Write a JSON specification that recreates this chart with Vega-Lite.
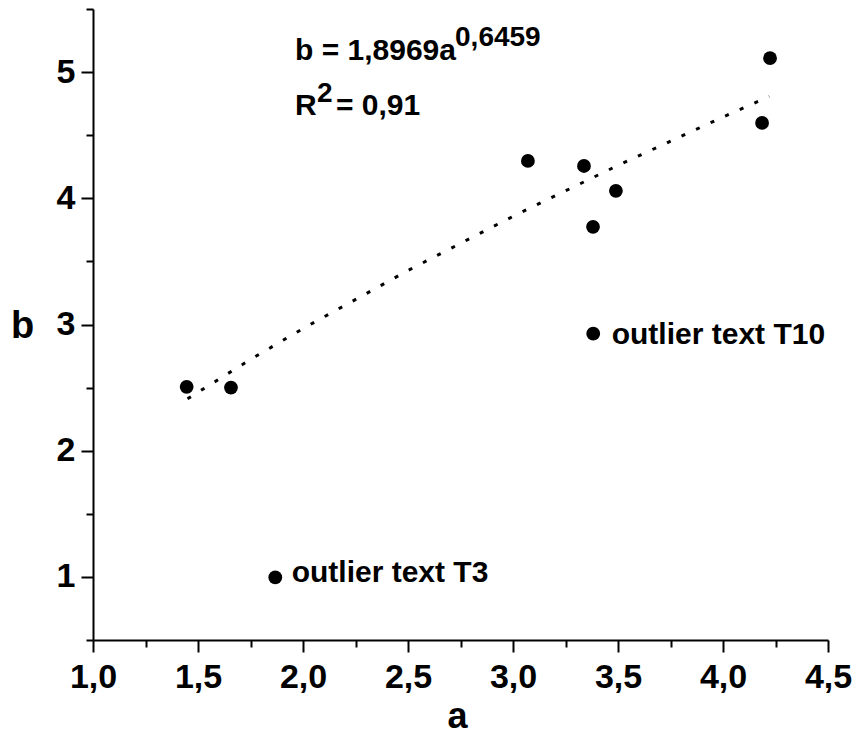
{
  "$schema": "https://vega.github.io/schema/vega-lite/v6.json",
  "autosize": "none",
  "width": 735,
  "height": 631,
  "padding": {"left": 93, "top": 9, "right": 28, "bottom": 96},
  "config": {
    "view": {"stroke": null},
    "font": "Liberation Sans",
    "axis": {
      "grid": false,
      "domainColor": "black",
      "domainWidth": 2,
      "tickColor": "black",
      "tickWidth": 2,
      "labelColor": "black",
      "labelFont": "Liberation Sans",
      "labelFontWeight": "bold",
      "labelFontSize": 34,
      "titleFont": "Liberation Sans",
      "titleFontWeight": "bold",
      "titleFontSize": 38,
      "titleColor": "black",
      "labelFlush": false,
      "labelOverlap": false
    }
  },
  "datasets": {
    "points": [
      {"a": 1.446, "b": 2.506},
      {"a": 1.657, "b": 2.50},
      {"a": 1.868, "b": 0.996},
      {"a": 3.071, "b": 4.296},
      {"a": 3.338, "b": 4.256},
      {"a": 3.381, "b": 3.774},
      {"a": 3.382, "b": 2.927},
      {"a": 3.49, "b": 4.059},
      {"a": 4.186, "b": 4.597},
      {"a": 4.224, "b": 5.11}
    ],
    "curve": [
      {"a": 1.45, "b": 2.411},
      {"a": 1.75, "b": 2.723},
      {"a": 2.0, "b": 2.968},
      {"a": 2.5, "b": 3.428},
      {"a": 3.0, "b": 3.857},
      {"a": 3.5, "b": 4.261},
      {"a": 4.0, "b": 4.644},
      {"a": 4.22, "b": 4.807}
    ],
    "labels": [
      {"a": 3.47, "b": 2.846, "text": "outlier text T10"},
      {"a": 1.946, "b": 0.963, "text": "outlier text T3"},
      {"a": 1.962, "b": 5.095, "text": "b = 1,8969a"},
      {"a": 1.962, "b": 4.66, "text": "R"},
      {"a": 2.157, "b": 4.66, "text": "= 0,91"}
    ],
    "sups": [
      {"a": 2.724, "b": 5.206, "text": "0,6459"},
      {"a": 2.067, "b": 4.765, "text": "2"}
    ]
  },
  "layer": [
    {
      "data": {"name": "curve"},
      "mark": {"type": "line", "color": "black", "strokeWidth": 3, "strokeDash": [4, 12], "strokeCap": "butt"},
      "encoding": {
        "x": {
          "field": "a", "type": "quantitative",
          "scale": {"domain": [1, 4.5], "nice": false, "zero": false},
          "axis": {
            "title": "a",
            "values": [1, 1.25, 1.5, 1.75, 2, 2.25, 2.5, 2.75, 3, 3.25, 3.5, 3.75, 4, 4.25, 4.5],
            "labelExpr": "(datum.value * 4) % 2 == 0 ? replace(format(datum.value, '.1f'), '.', ',') : ''",
            "tickSize": {"condition": {"test": "(datum.value * 4) % 2 == 0", "value": 12}, "value": 7},
            "labelPadding": 8,
            "titleFontSize": 36,
            "titleAngle": 0,
            "titleX": 364,
            "titleY": 87,
            "titleAlign": "center",
            "titleBaseline": "alphabetic"
          }
        },
        "y": {
          "field": "b", "type": "quantitative",
          "scale": {"domain": [0.5, 5.5], "nice": false, "zero": false},
          "axis": {
            "title": "b",
            "values": [0.5, 1, 1.5, 2, 2.5, 3, 3.5, 4, 4.5, 5, 5.5],
            "labelExpr": "datum.value % 1 == 0 ? format(datum.value, 'd') : ''",
            "tickSize": {"condition": {"test": "datum.value % 1 == 0", "value": 12}, "value": 7},
            "labelPadding": 6,
            "titleAngle": 0,
            "titleX": -71,
            "titleY": 328,
            "titleAlign": "center",
            "titleBaseline": "alphabetic"
          }
        }
      }
    },
    {
      "data": {"name": "points"},
      "mark": {"type": "point", "filled": true, "color": "black", "opacity": 1, "size": 190},
      "encoding": {
        "x": {"field": "a", "type": "quantitative"},
        "y": {"field": "b", "type": "quantitative"}
      }
    },
    {
      "data": {"name": "labels"},
      "mark": {"type": "text", "align": "left", "baseline": "alphabetic", "font": "Liberation Sans", "fontWeight": "bold", "fontSize": 30, "color": "black"},
      "encoding": {
        "x": {"field": "a", "type": "quantitative"},
        "y": {"field": "b", "type": "quantitative"},
        "text": {"field": "text"}
      }
    },
    {
      "data": {"name": "sups"},
      "mark": {"type": "text", "align": "left", "baseline": "alphabetic", "font": "Liberation Sans", "fontWeight": "bold", "fontSize": 28, "color": "black"},
      "encoding": {
        "x": {"field": "a", "type": "quantitative"},
        "y": {"field": "b", "type": "quantitative"},
        "text": {"field": "text"}
      }
    }
  ]
}
